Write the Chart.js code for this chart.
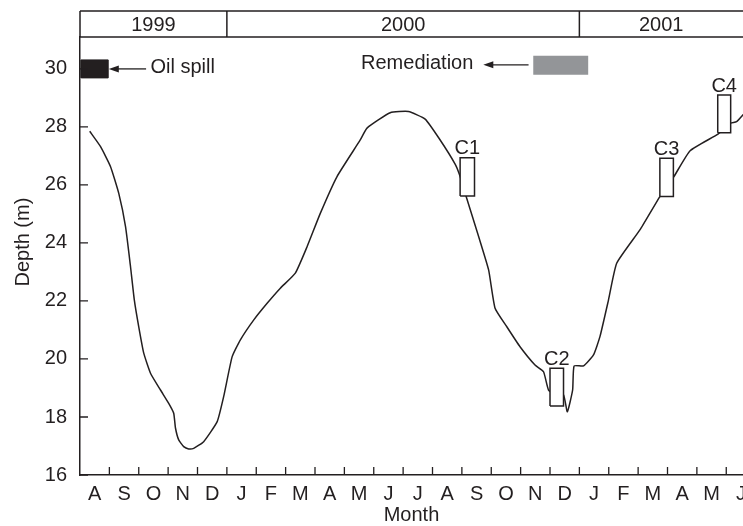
<!DOCTYPE html>
<html>
<head>
<meta charset="utf-8">
<script src="https://cdn.jsdelivr.net/npm/chart.js@4.4.1/dist/chart.umd.min.js"></script>
<style>
  html, body { margin: 0; padding: 0; background: #fff; }
</style>
</head>
<body>
<canvas id="chart" width="743" height="526"></canvas>
<script>
// x values are months counted from 1 Aug 1999
const monthLabels = ['A','S','O','N','D','J','F','M','A','M','J','J','A','S','O','N','D','J','F','M','A','M','J'];
const years = ['1999', '2000', '2001'];
const yearStarts = [0, 5, 17];
const depthTicks = [16, 18, 20, 22, 24, 26, 28, 30];

const monthPos = [0.33, 0.70, 1.04, 1.32, 1.55, 1.72, 1.85, 2.00, 2.17, 2.40, 2.74, 3.02, 3.19, 3.25, 3.36, 3.53, 3.70, 3.87, 4.21, 4.67,
  4.89, 5.18, 5.46, 5.91, 6.37, 6.82, 7.33, 7.73, 8.18, 8.75, 9.54, 9.77, 10.56, 11.18, 11.75, 12.26, 12.77, 12.92, 13.14, 13.57,
  13.91, 14.13, 14.53, 14.98, 15.49, 15.78, 15.95, 16.2, 16.46, 16.59, 16.77, 16.82, 17.14, 17.48, 17.70, 17.99, 18.27, 19.06, 19.74, 20.22,
  20.77, 21.73, 22.15, 22.35, 22.6];
const depth = [27.85, 27.32, 26.63, 25.71, 24.56, 23.18, 22.03, 21.11, 20.20, 19.51, 18.93, 18.47, 18.13, 17.62, 17.21, 16.98, 16.90, 16.92, 17.15, 17.84,
  18.70, 20.08, 20.66, 21.34, 21.92, 22.44, 22.96, 23.87, 25.02, 26.29, 27.55, 27.96, 28.49, 28.53, 28.27, 27.55, 26.72, 26.35, 25.62, 24.22,
  23.07, 21.75, 21.11, 20.42, 19.79, 19.56, 18.93, 18.8, 18.76, 18.18, 18.93, 19.76, 19.76, 20.14, 20.77, 22.03, 23.3, 24.45, 25.6, 26.29,
  27.18, 27.76, 28.13, 28.18, 28.45];

const coreNames = ['C1', 'C2', 'C3', 'C4'];
const coreFrom = [12.94, 16.0, 19.74, 21.71];
const coreTo = [13.43, 16.46, 20.2, 22.15];
const coreBottom = [25.62, 18.38, 25.6, 27.8];
const coreTop = [26.94, 19.68, 26.92, 29.1];

const oilSpillSpan = [0.04, 0.96];
const oilSpillDepth = [29.69, 30.31];
const remediationSpan = [15.43, 17.3];
const remediationDepth = [29.8, 30.45];

const ink = '#231f20';
const font = { family: '"Liberation Sans", Arial, sans-serif', size: 20 };

function rect(x0, x1, y0, y1) {
  return [{ x: x0, y: y0 }, { x: x1, y: y0 }, { x: x1, y: y1 }, { x: x0, y: y1 }, { x: x0, y: y0 }];
}

const datasets = [];
coreNames.forEach(function (name, i) {
  datasets.push({
    label: name,
    data: rect(coreFrom[i], coreTo[i], coreBottom[i], coreTop[i]),
    borderColor: ink,
    borderWidth: 1.5,
    backgroundColor: '#ffffff',
    fill: 'shape',
    pointRadius: 0,
    tension: 0,
    order: 1
  });
});
datasets.push({
  label: 'Oil spill',
  data: rect(oilSpillSpan[0], oilSpillSpan[1], oilSpillDepth[0], oilSpillDepth[1]),
  borderColor: ink,
  borderWidth: 1,
  backgroundColor: ink,
  fill: 'shape',
  pointRadius: 0,
  tension: 0,
  order: 1
});
datasets.push({
  label: 'Remediation',
  data: rect(remediationSpan[0], remediationSpan[1], remediationDepth[0], remediationDepth[1]),
  borderColor: '#939598',
  borderWidth: 0,
  backgroundColor: '#939598',
  fill: 'shape',
  pointRadius: 0,
  tension: 0,
  order: 1
});
datasets.push({
  label: 'Depth',
  data: monthPos.map(function (m, i) { return { x: m, y: depth[i] }; }),
  borderColor: ink,
  borderWidth: 1.5,
  fill: false,
  pointRadius: 0,
  tension: 0.15,
  order: 2
});

// year band, inward ticks, arrows and labels
const decor = {
  id: 'decor',
  afterDraw: function (chart) {
    const c = chart.ctx;
    const xs = chart.scales.x;
    const ys = chart.scales.y;
    const area = chart.chartArea;
    const bandTop = area.top - 26;
    c.save();
    c.strokeStyle = ink;
    c.fillStyle = ink;
    c.lineWidth = 1.5;

    c.beginPath();
    c.moveTo(area.left, bandTop);
    c.lineTo(area.right, bandTop);
    c.moveTo(area.left, area.top);
    c.lineTo(area.right, area.top);
    c.moveTo(area.left, bandTop);
    c.lineTo(area.left, area.top);
    for (let i = 1; i < yearStarts.length; i++) {
      const px = xs.getPixelForValue(yearStarts[i]);
      c.moveTo(px, bandTop);
      c.lineTo(px, area.top);
    }
    c.stroke();

    c.font = font.size + 'px ' + font.family;
    c.textAlign = 'center';
    c.textBaseline = 'middle';
    years.forEach(function (yr, i) {
      const a = xs.getPixelForValue(yearStarts[i]);
      const b = i + 1 < yearStarts.length ? xs.getPixelForValue(yearStarts[i + 1]) : area.right;
      c.fillText(yr, (a + b) / 2, (bandTop + area.top) / 2 + 1);
    });

    c.lineWidth = 1.3;
    c.beginPath();
    for (let m = 1; m < monthLabels.length; m++) {
      const px = xs.getPixelForValue(m);
      c.moveTo(px, area.bottom);
      c.lineTo(px, area.bottom - 8);
    }
    depthTicks.forEach(function (v) {
      const py = ys.getPixelForValue(v);
      c.moveTo(area.left, py);
      c.lineTo(area.left + 8, py);
    });
    c.stroke();

    function arrow(x0, x1, y) {
      const h = xs.getPixelForValue(x0);
      const t = xs.getPixelForValue(x1);
      const py = ys.getPixelForValue(y);
      c.beginPath();
      c.moveTo(h + 8, py);
      c.lineTo(t, py);
      c.stroke();
      c.beginPath();
      c.moveTo(h, py);
      c.lineTo(h + 10, py - 3.5);
      c.lineTo(h + 10, py + 3.5);
      c.closePath();
      c.fill();
    }
    c.lineWidth = 1.3;
    arrow(0.98, 2.25, 30.0);
    arrow(13.73, 15.27, 30.14);

    c.textAlign = 'left';
    c.fillText('Oil spill', xs.getPixelForValue(2.40), ys.getPixelForValue(30.04));
    c.textAlign = 'right';
    c.fillText('Remediation', xs.getPixelForValue(13.39), ys.getPixelForValue(30.17));

    c.textAlign = 'center';
    c.textBaseline = 'bottom';
    coreNames.forEach(function (name, i) {
      const cx = (xs.getPixelForValue(coreFrom[i]) + xs.getPixelForValue(coreTo[i])) / 2;
      c.fillText(name, cx, ys.getPixelForValue(coreTop[i]) + 1);
    });
    c.restore();
  }
};

new Chart(document.getElementById('chart'), {
  type: 'line',
  data: { datasets: datasets },
  options: {
    responsive: false,
    animation: false,
    layout: { padding: { top: 37, left: 0, right: 0, bottom: 0 } },
    plugins: {
      legend: { display: false },
      tooltip: { enabled: false }
    },
    scales: {
      x: {
        type: 'linear',
        min: 0,
        max: 22.57,
        grid: { display: false, drawTicks: false },
        border: { color: ink, width: 1.5 },
        afterBuildTicks: function (scale) {
          scale.ticks = monthLabels.map(function (_, i) { return { value: i + 0.5 }; });
        },
        afterFit: function (scale) {
          scale.height = 51;
          scale.paddingLeft = 0;
          scale.paddingRight = 0;
        },
        ticks: {
          autoSkip: false,
          maxRotation: 0,
          padding: 7,
          color: ink,
          font: font,
          callback: function (v, i) { return monthLabels[i]; }
        },
        title: { display: true, text: 'Month', color: ink, font: font, padding: { top: 0, bottom: -1 } }
      },
      y: {
        min: 16,
        max: 31.1,
        grid: { display: false, drawTicks: false },
        border: { color: ink, width: 1.5 },
        afterBuildTicks: function (scale) {
          scale.ticks = depthTicks.map(function (v) { return { value: v }; });
        },
        afterFit: function (scale) {
          scale.width = 80;
        },
        ticks: { padding: 13, color: ink, font: font },
        title: { display: true, text: '\u00a0\u00a0\u00a0\u00a0\u00a0Depth (m)', color: ink, font: font, padding: { top: 11, bottom: 0 } }
      }
    }
  },
  plugins: [decor]
});
</script>
</body>
</html>
